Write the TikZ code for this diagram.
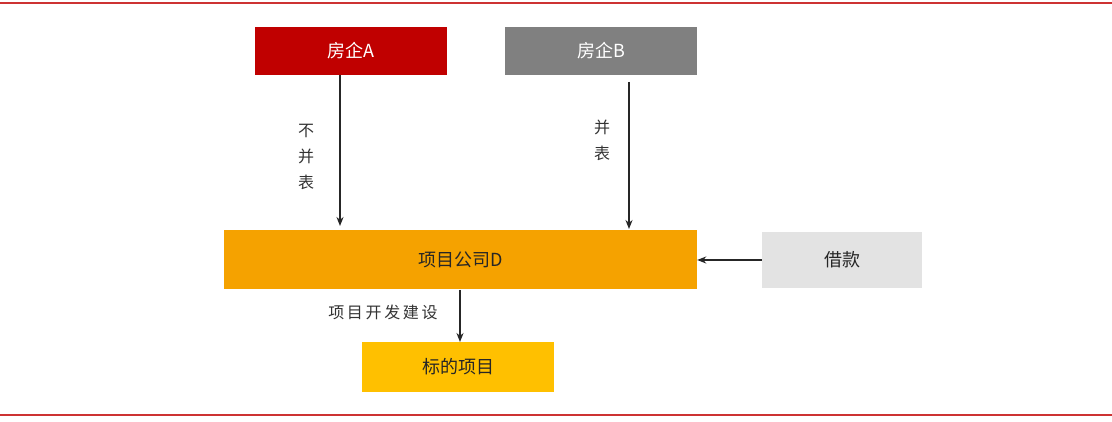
\documentclass[tikz,border=0pt]{standalone}
\usepackage{fontspec}
\setmainfont{Noto Sans CJK SC}
\usetikzlibrary{arrows.meta}
\definecolor{cred}{HTML}{C00000}
\definecolor{cgray}{HTML}{808080}
\definecolor{corange}{HTML}{F5A200}
\definecolor{clgray}{HTML}{E3E3E3}
\definecolor{cyellow}{HTML}{FFC000}
\begin{document}
\begin{tikzpicture}[x=1pt,y=-1pt,
  box/.style={draw=none,minimum height=#1,inner sep=0pt,font=\fontsize{18}{20}\selectfont},
  arr/.style={-{Stealth[length=9pt,width=7pt]},line width=1.5pt,draw=black!85},
  lbl/.style={font=\fontsize{16}{26}\selectfont,text=black!80,align=center}]
\useasboundingbox (0,0) rectangle (1112,422);
\fill[white] (0,0) rectangle (1112,422);
\draw[cred!80,line width=1.5pt] (0,3) -- (1112,3);
\draw[cred!80,line width=1.5pt] (0,415) -- (1112,415);
\node[box=48pt,fill=cred,text=white,minimum width=192pt] (A) at (351,51) {房企A};
\node[box=48pt,fill=cgray,text=white,minimum width=192pt] (B) at (601,51) {房企B};
\node[box=59pt,fill=corange,text=black!85,minimum width=473pt] (D) at (460.5,260) {项目公司D};
\node[box=56pt,fill=clgray,text=black!85,minimum width=160pt] (L) at (842,260) {借款};
\node[box=50pt,fill=cyellow,text=black!85,minimum width=192pt] (T) at (458,367) {标的项目};
\coordinate (a1) at (340,75); \coordinate (a2) at (340,226);
\coordinate (b1) at (629,82); \coordinate (b2) at (629,229);
\coordinate (t1) at (460,290); \coordinate (t2) at (460,342);
\draw[arr] (a1) -- (a2);
\draw[arr] (b1) -- (b2);
\draw[arr] (L.west) -- (D.east);
\draw[arr] (t1) -- (t2);
\node[lbl] (la) at (306,157) {不\\并\\表};
\node[lbl] (lb) at (602,140) {并\\表};
\node[lbl] (lt) at (383,312) {项\,目\,开\,发\,建\,设};
\end{tikzpicture}
\end{document}
